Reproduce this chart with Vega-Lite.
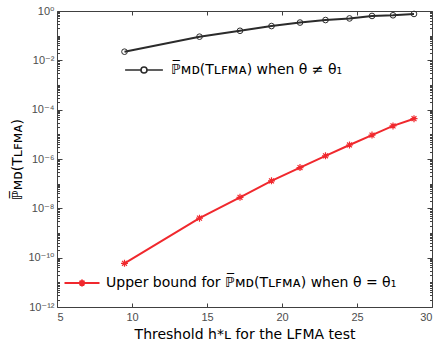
{
  "$schema": "https://vega.github.io/schema/vega-lite/v6.json",
  "width": 375,
  "height": 296,
  "autosize": "none",
  "padding": {"left": 57, "top": 11, "right": 7, "bottom": 38},
  "config": {
    "view": {"stroke": null},
    "font": "Liberation Sans, DejaVu Sans",
    "axis": {
      "domainColor": "#404040",
      "tickColor": "#404040",
      "labelColor": "#4d4d4d",
      "labelFont": "Liberation Sans, DejaVu Sans",
      "labelFontSize": 11,
      "titleColor": "#000000",
      "titleFont": "DejaVu Sans",
      "titleFontWeight": "normal",
      "titleFontSize": 14,
      "grid": false
    },
    "legend": {"padding": 0, "offset": 0}
  },
  "layer": [
    {
      "data": {"values": [
        {"h": 9.5, "p": 0.0224, "series": "ℙ̅ᴍᴅ(Tʟꜰᴍᴀ) when θ ≠ θ₁"},
        {"h": 14.5, "p": 0.091, "series": "ℙ̅ᴍᴅ(Tʟꜰᴍᴀ) when θ ≠ θ₁"},
        {"h": 17.2, "p": 0.158, "series": "ℙ̅ᴍᴅ(Tʟꜰᴍᴀ) when θ ≠ θ₁"},
        {"h": 19.3, "p": 0.245, "series": "ℙ̅ᴍᴅ(Tʟꜰᴍᴀ) when θ ≠ θ₁"},
        {"h": 21.2, "p": 0.34, "series": "ℙ̅ᴍᴅ(Tʟꜰᴍᴀ) when θ ≠ θ₁"},
        {"h": 22.9, "p": 0.43, "series": "ℙ̅ᴍᴅ(Tʟꜰᴍᴀ) when θ ≠ θ₁"},
        {"h": 24.5, "p": 0.5, "series": "ℙ̅ᴍᴅ(Tʟꜰᴍᴀ) when θ ≠ θ₁"},
        {"h": 26.0, "p": 0.63, "series": "ℙ̅ᴍᴅ(Tʟꜰᴍᴀ) when θ ≠ θ₁"},
        {"h": 27.4, "p": 0.67, "series": "ℙ̅ᴍᴅ(Tʟꜰᴍᴀ) when θ ≠ θ₁"},
        {"h": 28.8, "p": 0.76, "series": "ℙ̅ᴍᴅ(Tʟꜰᴍᴀ) when θ ≠ θ₁"}
      ]},
      "mark": {"type": "line", "strokeWidth": 2, "point": {"shape": "circle", "filled": false, "size": 32, "strokeWidth": 1}},
      "encoding": {
        "x": {"field": "h", "type": "quantitative",
          "scale": {"domain": [5, 30], "nice": false, "zero": false},
          "axis": {"orient": "bottom", "values": [5, 10, 15, 20, 25, 30], "tickSize": -4, "labelPadding": 8,
            "title": "Threshold h*ʟ for the LFMA test", "titlePadding": 5}},
        "y": {"field": "p", "type": "quantitative",
          "scale": {"type": "log", "domain": [1e-12, 1], "nice": false},
          "axis": {"orient": "left",
            "values": [1e-12,2e-12,3e-12,4e-12,5e-12,6e-12,7e-12,8e-12,9e-12,1e-11,2e-11,3e-11,4e-11,5e-11,6e-11,7e-11,8e-11,9e-11,1e-10,2e-10,3e-10,4e-10,5e-10,6e-10,7e-10,8e-10,9e-10,1e-9,2e-9,3e-9,4e-9,5e-9,6e-9,7e-9,8e-9,9e-9,1e-8,2e-8,3e-8,4e-8,5e-8,6e-8,7e-8,8e-8,9e-8,1e-7,2e-7,3e-7,4e-7,5e-7,6e-7,7e-7,8e-7,9e-7,1e-6,2e-6,3e-6,4e-6,5e-6,6e-6,7e-6,8e-6,9e-6,1e-5,2e-5,3e-5,4e-5,5e-5,6e-5,7e-5,8e-5,9e-5,1e-4,2e-4,3e-4,4e-4,5e-4,6e-4,7e-4,8e-4,9e-4,0.001,0.002,0.003,0.004,0.005,0.006,0.007,0.008,0.009,0.01,0.02,0.03,0.04,0.05,0.06,0.07,0.08,0.09,0.1,0.2,0.3,0.4,0.5,0.6,0.7,0.8,0.9,1],
            "tickSize": {"condition": {"test": "abs(log(datum.value)/LN10 - round(log(datum.value)/LN10)) < 0.001 && round(log(datum.value)/LN10) % 2 == 0", "value": -5}, "value": -2.5},
            "labelExpr": "abs(log(datum.value)/LN10 - round(log(datum.value)/LN10)) < 0.001 && round(log(datum.value)/LN10) % 2 == 0 ? ('10' + (round(log(datum.value)/LN10) == 0 ? '⁰' : '⁻' + replace(replace(replace(replace(replace(replace('' + abs(round(log(datum.value)/LN10)), '1', '¹'), '0', '⁰'), '2', '²'), '4', '⁴'), '6', '⁶'), '8', '⁸'))) : ''",
            "labelPadding": 8, "labelFlush": false, "labelOverlap": false,
            "title": "ℙ̅ᴍᴅ(Tʟꜰᴍᴀ)", "titlePadding": 3}},
        "color": {"field": "series", "type": "nominal",
          "scale": {"range": ["#2b2b2b"]},
          "legend": {"title": null, "orient": "none", "legendX": 80, "legendY": 52,
            "symbolType": "M-6.3,0H-1M1,0H6.3M-1,0A1,1 0 1,1 1,0A1,1 0 1,1 -1,0",
            "symbolSize": 36, "symbolStrokeColor": "#2b2b2b", "symbolFillColor": "transparent", "symbolStrokeWidth": 1.6,
            "labelFontSize": 14, "labelColor": "#000000", "labelLimit": 400, "labelOffset": 20, "labelFont": "DejaVu Sans"}}
      }
    },
    {
      "data": {"values": [
        {"h": 9.5, "p": 5.9e-11, "series": "Upper bound for ℙ̅ᴍᴅ(Tʟꜰᴍᴀ) when θ = θ₁"},
        {"h": 14.5, "p": 4.0e-9, "series": "Upper bound for ℙ̅ᴍᴅ(Tʟꜰᴍᴀ) when θ = θ₁"},
        {"h": 17.2, "p": 2.8e-8, "series": "Upper bound for ℙ̅ᴍᴅ(Tʟꜰᴍᴀ) when θ = θ₁"},
        {"h": 19.3, "p": 1.3e-7, "series": "Upper bound for ℙ̅ᴍᴅ(Tʟꜰᴍᴀ) when θ = θ₁"},
        {"h": 21.2, "p": 4.5e-7, "series": "Upper bound for ℙ̅ᴍᴅ(Tʟꜰᴍᴀ) when θ = θ₁"},
        {"h": 22.9, "p": 1.35e-6, "series": "Upper bound for ℙ̅ᴍᴅ(Tʟꜰᴍᴀ) when θ = θ₁"},
        {"h": 24.5, "p": 3.7e-6, "series": "Upper bound for ℙ̅ᴍᴅ(Tʟꜰᴍᴀ) when θ = θ₁"},
        {"h": 26.0, "p": 9.3e-6, "series": "Upper bound for ℙ̅ᴍᴅ(Tʟꜰᴍᴀ) when θ = θ₁"},
        {"h": 27.4, "p": 2.2e-5, "series": "Upper bound for ℙ̅ᴍᴅ(Tʟꜰᴍᴀ) when θ = θ₁"},
        {"h": 28.8, "p": 4.3e-5, "series": "Upper bound for ℙ̅ᴍᴅ(Tʟꜰᴍᴀ) when θ = θ₁"}
      ]},
      "mark": {"type": "line", "strokeWidth": 2, "point": {"shape": "M0,-1V1M-1,0H1M-0.7,-0.7L0.7,0.7M-0.7,0.7L0.7,-0.7", "filled": false, "size": 49, "strokeWidth": 1.2}},
      "encoding": {
        "x": {"field": "h", "type": "quantitative",
          "scale": {"domain": [5, 30], "nice": false, "zero": false},
          "axis": {"orient": "top", "values": [5, 10, 15, 20, 25, 30], "tickSize": -4, "labels": false, "title": null}},
        "y": {"field": "p", "type": "quantitative",
          "scale": {"type": "log", "domain": [1e-12, 1], "nice": false},
          "axis": {"orient": "right",
            "values": [1e-12,2e-12,3e-12,4e-12,5e-12,6e-12,7e-12,8e-12,9e-12,1e-11,2e-11,3e-11,4e-11,5e-11,6e-11,7e-11,8e-11,9e-11,1e-10,2e-10,3e-10,4e-10,5e-10,6e-10,7e-10,8e-10,9e-10,1e-9,2e-9,3e-9,4e-9,5e-9,6e-9,7e-9,8e-9,9e-9,1e-8,2e-8,3e-8,4e-8,5e-8,6e-8,7e-8,8e-8,9e-8,1e-7,2e-7,3e-7,4e-7,5e-7,6e-7,7e-7,8e-7,9e-7,1e-6,2e-6,3e-6,4e-6,5e-6,6e-6,7e-6,8e-6,9e-6,1e-5,2e-5,3e-5,4e-5,5e-5,6e-5,7e-5,8e-5,9e-5,1e-4,2e-4,3e-4,4e-4,5e-4,6e-4,7e-4,8e-4,9e-4,0.001,0.002,0.003,0.004,0.005,0.006,0.007,0.008,0.009,0.01,0.02,0.03,0.04,0.05,0.06,0.07,0.08,0.09,0.1,0.2,0.3,0.4,0.5,0.6,0.7,0.8,0.9,1],
            "tickSize": {"condition": {"test": "abs(log(datum.value)/LN10 - round(log(datum.value)/LN10)) < 0.001 && round(log(datum.value)/LN10) % 2 == 0", "value": -5}, "value": -2.5},
            "labels": false, "title": null}},
        "color": {"field": "series", "type": "nominal",
          "scale": {"range": ["#f0282d"]},
          "legend": {"title": null, "orient": "none", "legendX": 18, "legendY": 265,
            "symbolType": "M-5,0H5M0,-1V1M-0.7,-0.7L0.7,0.7M-0.7,0.7L0.7,-0.7",
            "symbolSize": 49, "symbolStrokeColor": "#f0282d", "symbolFillColor": "transparent", "symbolStrokeWidth": 1.8,
            "labelFontSize": 14, "labelColor": "#000000", "labelLimit": 400, "labelOffset": 17, "labelFont": "DejaVu Sans"}}
      }
    }
  ],
  "resolve": {"scale": {"color": "independent"}, "axis": {"x": "independent", "y": "independent"}}
}
